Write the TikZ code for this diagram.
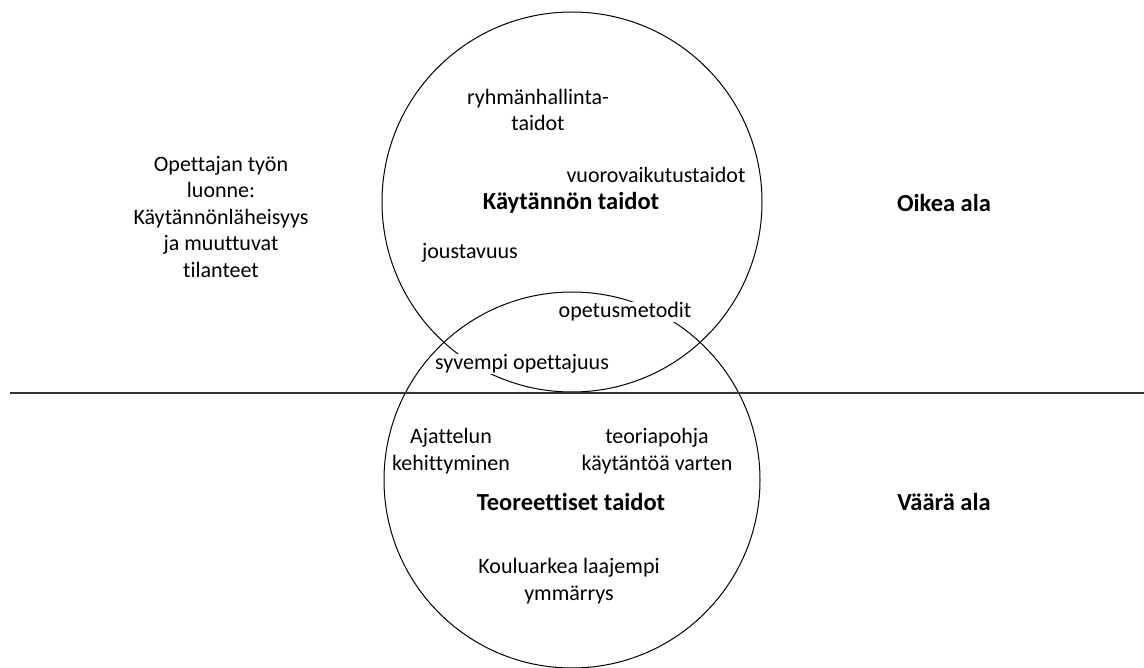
\documentclass[tikz,border=0pt]{standalone}
\usepackage{fontspec}
\setmainfont{Carlito}[Ligatures=NoCommon]
\usetikzlibrary{positioning}

\begin{document}
\begin{tikzpicture}[x=1pt, y=-1pt,
    every node/.style={font=\fontsize{22}{26.5}\selectfont},
    ring/.style={draw, circle, line width=1pt, minimum size=380pt, inner sep=0pt},
    lbl/.style={fill=white, inner sep=1pt, align=center},
    head/.style={lbl, font=\fontsize{24.5}{26.5}\selectfont\bfseries}]
    \useasboundingbox (0,0) rectangle (1144,668);
    % the two areas and the border between them
    \node[ring] (practice) at (572,202) {};
    \node[ring, minimum size=376pt] (theory) at (572,480) {};
    \coordinate (west) at (10,393);
    \coordinate (east) at (1144,393);
    \draw[line width=1.3pt, black!80] (west) -- (east);
    % upper circle
    \node[lbl] (group) at (538,110) {ryhmänhallinta-\\taidot};
    \node[lbl] (interact) at (656,175) {vuorovaikutustaidot};
    \node[head] (practical) at (571,203) {Käytännön taidot};
    \node[lbl] (flex) at (470,253) {joustavuus};
    % overlap
    \node[lbl] (methods) at (625,312) {opetusmetodit};
    \node[lbl] (deeper) at (522,364) {syvempi opettajuus};
    % lower circle
    \node[lbl, fill=none] (thinking) at (451,451) {Ajattelun\\kehittyminen};
    \node[lbl] (basis) at (657,451) {teoriapohja\\käytäntöä varten};
    \node[head] (theoretical) at (571,502) {Teoreettiset taidot};
    \node[lbl] (wider) at (569,581) {Kouluarkea laajempi\\ymmärrys};
    % sides
    \node[lbl] (nature) at (221,217) {Opettajan työn\\luonne:\\Käytännönläheisyys\\ja muuttuvat\\tilanteet};
    \node[head] (right) at (944,203) {Oikea ala};
    \node[head] (wrong) at (944,502) {Väärä ala};
\end{tikzpicture}
\end{document}
